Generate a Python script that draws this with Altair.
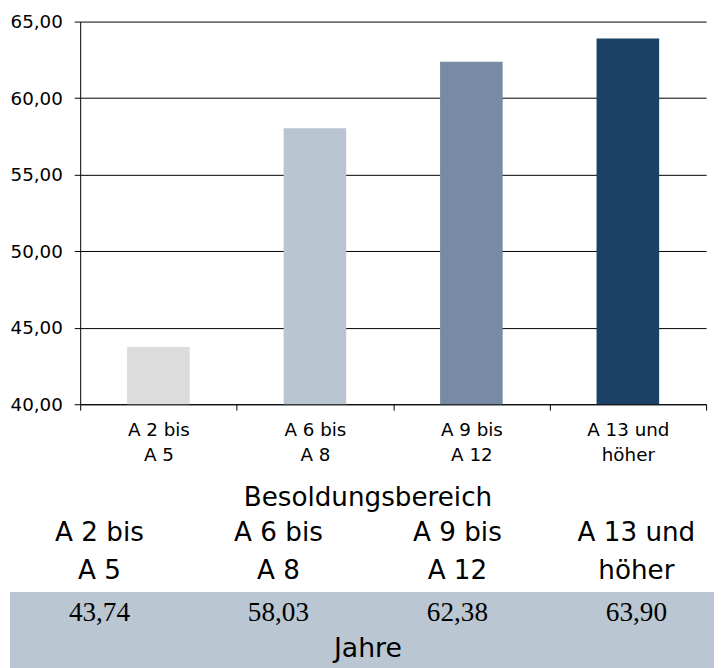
import altair as alt
import pandas as pd

# ---- data ----
categories = ["A 2 bis\nA 5", "A 6 bis\nA 8", "A 9 bis\nA 12", "A 13 und\nhöher"]
values = [43.74, 58.03, 62.38, 63.90]
bar_colors = ["#dcdcdc", "#b9c5d1", "#778ca4", "#1b4164"]
y_ticks = [40, 45, 50, 55, 60, 65]
header = "Besoldungsbereich"
unit = "Jahre"
band_color = "#bac6d2"

SANS = "DejaVu Sans"
SERIF = "Liberation Serif"

bars_df = pd.DataFrame({"cat": categories, "value": values})

rows = ["head", "l1", "l2", "val", "unit"]
label_rows = []
for c in categories:
    first, second = c.split("\n")
    label_rows.append({"col": c, "row": "l1", "text": first})
    label_rows.append({"col": c, "row": "l2", "text": second})
labels_df = pd.DataFrame(label_rows)
values_df = pd.DataFrame({
    "col": categories,
    "row": ["val"] * len(categories),
    "text": [f"{v:.2f}".replace(".", ",") for v in values],
})
head_df = pd.DataFrame({"span": ["all"], "row": ["head"], "text": [header]})
unit_df = pd.DataFrame({"span": ["all"], "row": ["unit"], "text": [unit]})
band_df = pd.DataFrame({"span": ["all"], "band": ["band"]})

# ---- bar chart ----
bars = alt.Chart(bars_df).mark_bar(width=alt.RelativeBandSize(0.4), clip=True).encode(
    x=alt.X(
        "cat:N", sort=categories,
        scale=alt.Scale(paddingInner=0, paddingOuter=0),
        axis=alt.Axis(
            title=None, labelAngle=0, tickBand="extent",
            labelExpr="split(datum.label, '\\n')",
            labelFont=SANS, labelFontSize=18.5, labelLineHeight=25,
            labelColor="black", labelPadding=11,
            tickSize=6, tickColor="black", domainColor="black",
            grid=False,
        ),
    ),
    y=alt.Y(
        "value:Q",
        scale=alt.Scale(domain=[40, 65], nice=False, zero=False),
        axis=alt.Axis(
            title=None, values=y_ticks,
            labelExpr="replace(format(datum.value, '.2f'), '.', ',')",
            labelFont=SANS, labelFontSize=18.5, labelColor="black",
            labelPadding=12, tickSize=6, tickColor="black",
            domainColor="black", grid=True, gridColor="black",
            gridOpacity=1, gridWidth=1,
        ),
    ),
    color=alt.Color("cat:N", scale=alt.Scale(domain=categories, range=bar_colors), legend=None),
)

# ---- table below ----
table_x = alt.Scale(type="band", domain=categories, range=[-71, 653], paddingInner=0, paddingOuter=0)
span_x = alt.Scale(type="band", domain=["all"], range=[-71, 653], paddingInner=0, paddingOuter=0)
row_y = alt.Scale(type="point", domain=rows, range=[490, 646], padding=0)

band = alt.Chart(band_df).mark_rect(color=band_color).encode(
    x=alt.X("span:N", scale=span_x, axis=None),
    y=alt.Y("band:N", scale=alt.Scale(type="band", domain=["band"], range=[577, 662], paddingInner=0, paddingOuter=0), axis=None),
)

head_text = alt.Chart(head_df).mark_text(font=SANS, fontSize=26.5, color="black", baseline="alphabetic").encode(
    x=alt.X("span:N", scale=span_x, axis=None),
    y=alt.Y("row:N", scale=row_y, axis=None),
    text="text:N",
)

labels_text = alt.Chart(labels_df).mark_text(font=SANS, fontSize=26.5, color="black", baseline="alphabetic", dy=-4).encode(
    x=alt.X("col:N", scale=table_x, axis=None),
    y=alt.Y("row:N", scale=row_y, axis=None),
    text="text:N",
)

values_text = alt.Chart(values_df).mark_text(font=SERIF, fontSize=27.5, color="black", baseline="alphabetic", dy=-1).encode(
    x=alt.X("col:N", scale=table_x, axis=None),
    y=alt.Y("row:N", scale=row_y, axis=None),
    text="text:N",
)

unit_text = alt.Chart(unit_df).mark_text(font=SANS, fontSize=27, color="black", baseline="alphabetic", dy=-3).encode(
    x=alt.X("span:N", scale=span_x, axis=None),
    y=alt.Y("row:N", scale=row_y, axis=None),
    text="text:N",
)

chart = alt.layer(bars, band, head_text, labels_text, values_text, unit_text).resolve_scale(
    x="independent", y="independent", color="independent"
).properties(
    width=633, height=387,
    autosize=alt.AutoSizeParams(type="none"),
    padding={"left": 73, "top": 10, "right": 8, "bottom": 263},
    background="white",
).configure_view(stroke=None)

chart.save("out.html", embed_options={"renderer": "svg", "actions": False})
